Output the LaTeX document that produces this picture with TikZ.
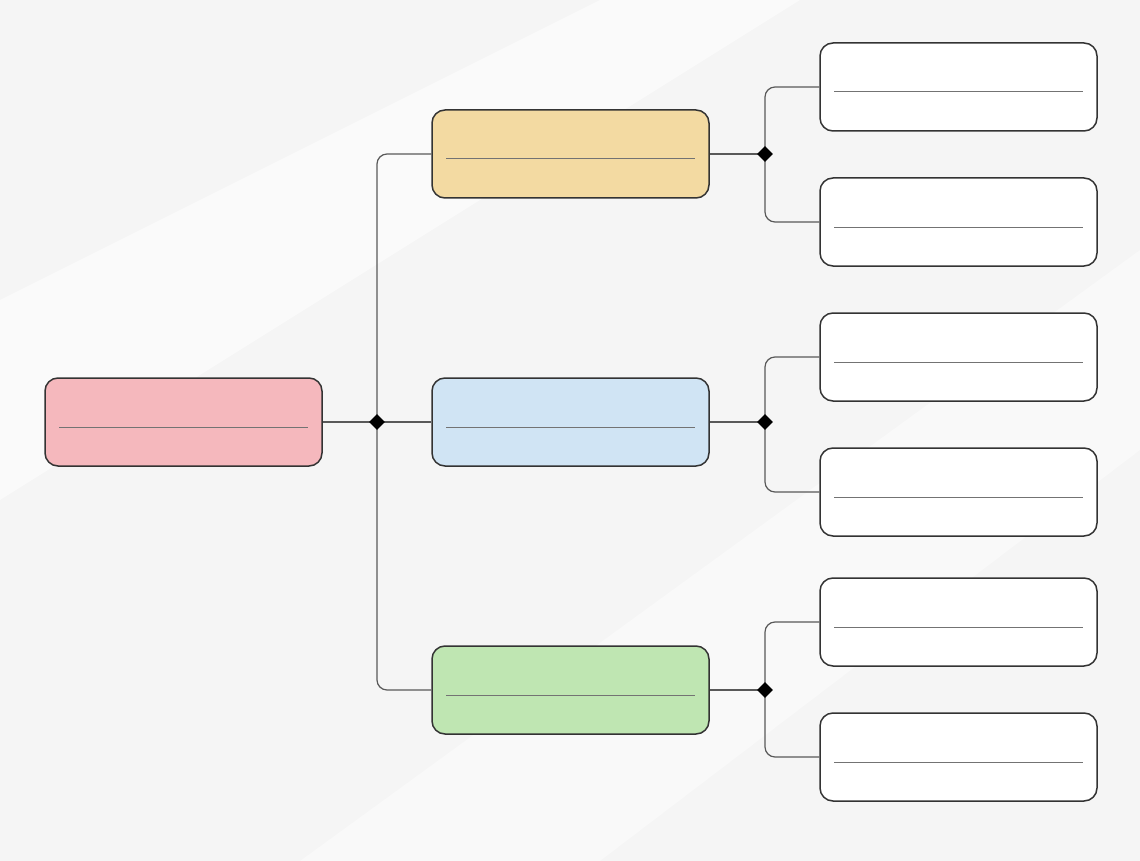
\documentclass[tikz,border=0pt]{standalone}
\usetikzlibrary{shapes.geometric}
\definecolor{cpink}{HTML}{F5B8BD}
\definecolor{cyel}{HTML}{F3DAA2}
\definecolor{cblue}{HTML}{D0E4F4}
\definecolor{cgreen}{HTML}{BFE6B2}
\begin{document}
\begin{tikzpicture}[x=1pt,y=-1pt,
 boxst/.style={draw=black!80,line width=1.5pt,rounded corners=13pt,minimum width=277pt,minimum height=88pt,inner sep=0pt},
 conn/.style={draw=black!65,line width=1.2pt,rounded corners=10pt},
 dot/.style={diamond,fill=black,inner sep=0pt,minimum size=16pt},
 rule/.style={draw=black!55,line width=1pt}]
\fill[black!4] (0,0) rectangle (1140,861);
\fill[white,opacity=0.5] (0,300) -- (600,0) -- (800,0) -- (0,500) -- cycle;
\fill[white,opacity=0.4] (300,861) -- (1140,250) -- (1140,450) -- (600,861) -- cycle;
\useasboundingbox (0,0) rectangle (1140,861);
\coordinate (j0) at (377,422);
\coordinate (j1) at (765,154);
\coordinate (j2) at (765,422);
\coordinate (j3) at (765,690);
\node[boxst,fill=cpink] (root) at (183.5,422) {};
\node[boxst,fill=cyel] (m1) at (570.5,154) {};
\node[boxst,fill=cblue] (m2) at (570.5,422) {};
\node[boxst,fill=cgreen] (m3) at (570.5,690) {};
\node[boxst,fill=white] (r1) at (958.5,87) {};
\node[boxst,fill=white] (r2) at (958.5,222) {};
\node[boxst,fill=white] (r3) at (958.5,357) {};
\node[boxst,fill=white] (r4) at (958.5,492) {};
\node[boxst,fill=white] (r5) at (958.5,622) {};
\node[boxst,fill=white] (r6) at (958.5,757) {};
\foreach \n in {root,m1,m2,m3,r1,r2,r3,r4,r5,r6}{
 \draw[rule] ([xshift=15pt,yshift=-5pt]\n.west) -- ([xshift=-15pt,yshift=-5pt]\n.east);}
\draw[conn] (root.east) -- (j0) -- (m2.west);
\draw[conn] (m1.west) -| (j0) |- (m3.west);
\draw[conn] (m1.east) -- (j1);
\draw[conn] (r1.west) -| (j1) |- (r2.west);
\draw[conn] (m2.east) -- (j2);
\draw[conn] (r3.west) -| (j2) |- (r4.west);
\draw[conn] (m3.east) -- (j3);
\draw[conn] (r5.west) -| (j3) |- (r6.west);
\foreach \j in {j0,j1,j2,j3} \node[dot] at (\j) {};
\end{tikzpicture}
\end{document}
